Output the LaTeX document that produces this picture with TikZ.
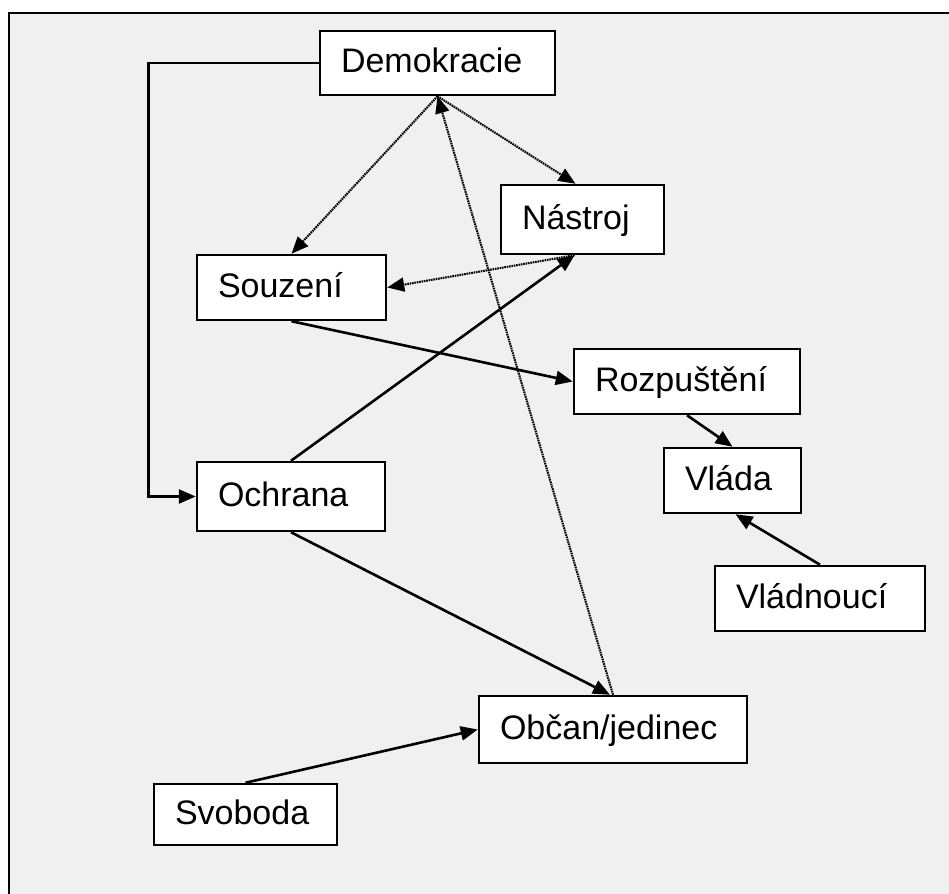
\documentclass[tikz,border=0pt]{standalone}
\usepackage{fontspec}
\setmainfont{Liberation Sans}
\usetikzlibrary{arrows.meta,calc}

% left-aligned label of a fixed width inside a concept box
\newcommand{\cptext}[2]{\makebox[#1][l]{#2}}

\tikzset{
  concept/.style={draw=black, line width=2.5pt, fill=white, rectangle,
    inner xsep=0pt, inner ysep=0pt,
    font=\fontsize{34}{40}\selectfont,
    text height=24.5pt, text depth=5.1pt},
  link/.style={line width=2.6pt, -{Triangle[length=17pt,width=14pt]}},
  dotlink/.style={line width=2.1pt, dash pattern=on 1.6pt off 0.8pt,
    -{Triangle[length=17pt,width=14pt]}},
}

\begin{document}
\begin{tikzpicture}[x=1pt,y=-1pt]
  % page and panel
  \useasboundingbox (0,0) rectangle (949,893);
  \fill[white] (0,0) rectangle (949,893);
  \filldraw[fill={rgb,255:red,240;green,240;blue,240}, draw=black, line width=2.4pt]
    (9,13) rectangle (960,905);

  % concepts
  \node[concept, minimum width=235pt, minimum height=64pt] (demo) at (437.5,63) {\cptext{193pt}{Demokracie}};
  \node[concept, minimum width=163pt, minimum height=69pt] (nast) at (582.5,219.5) {\cptext{121pt}{Nástroj}};
  \node[concept, minimum width=189pt, minimum height=65pt] (souz) at (291.5,287.5) {\cptext{147pt}{Souzení}};
  \node[concept, minimum width=226pt, minimum height=65pt] (rozp) at (687,381.5) {\cptext{184pt}{Rozpuštění}};
  \node[concept, minimum width=137pt, minimum height=65pt] (vlada) at (732.5,480.5) {\cptext{95pt}{Vláda}};
  \node[concept, minimum width=210pt, minimum height=65pt] (vladn) at (820,598.5) {\cptext{168pt}{Vládnoucí}};
  \node[concept, minimum width=188pt, minimum height=69pt] (ochr) at (291,496.5) {\cptext{146pt}{Ochrana}};
  \node[concept, minimum width=268pt, minimum height=67pt] (obcan) at (613,729.5) {\cptext{226pt}{Občan/jedinec}};
  \node[concept, minimum width=183pt, minimum height=61pt] (svob) at (245.5,814.5) {\cptext{141pt}{Svoboda}};

  % solid links
  \draw[link] (demo.west) -- ++(-170,0) |- (ochr.west);
  \draw[link] (souz.south) -- (rozp.west);
  \draw[link] (rozp.south) -- (vlada.north);
  \draw[link] (vladn.north) -- ($(vlada.south)+(3,0)$);
  \draw[link] (ochr.north) -- ($(nast.south)+(-8,0)$);
  \draw[link] (ochr.south) -- ($(obcan.north)+(-3,0)$);
  \draw[link] (svob.north) -- (obcan.west);

  % dotted links
  \draw[dotlink] (demo.south) -- (souz.north);
  \draw[dotlink] (demo.south) -- ($(nast.north)+(-7,0)$);
  \draw[dotlink] (obcan.north) -- (demo.south);
  \draw[dotlink] ($(nast.south)+(-8,0)$) -- (souz.east);
\end{tikzpicture}
\end{document}
